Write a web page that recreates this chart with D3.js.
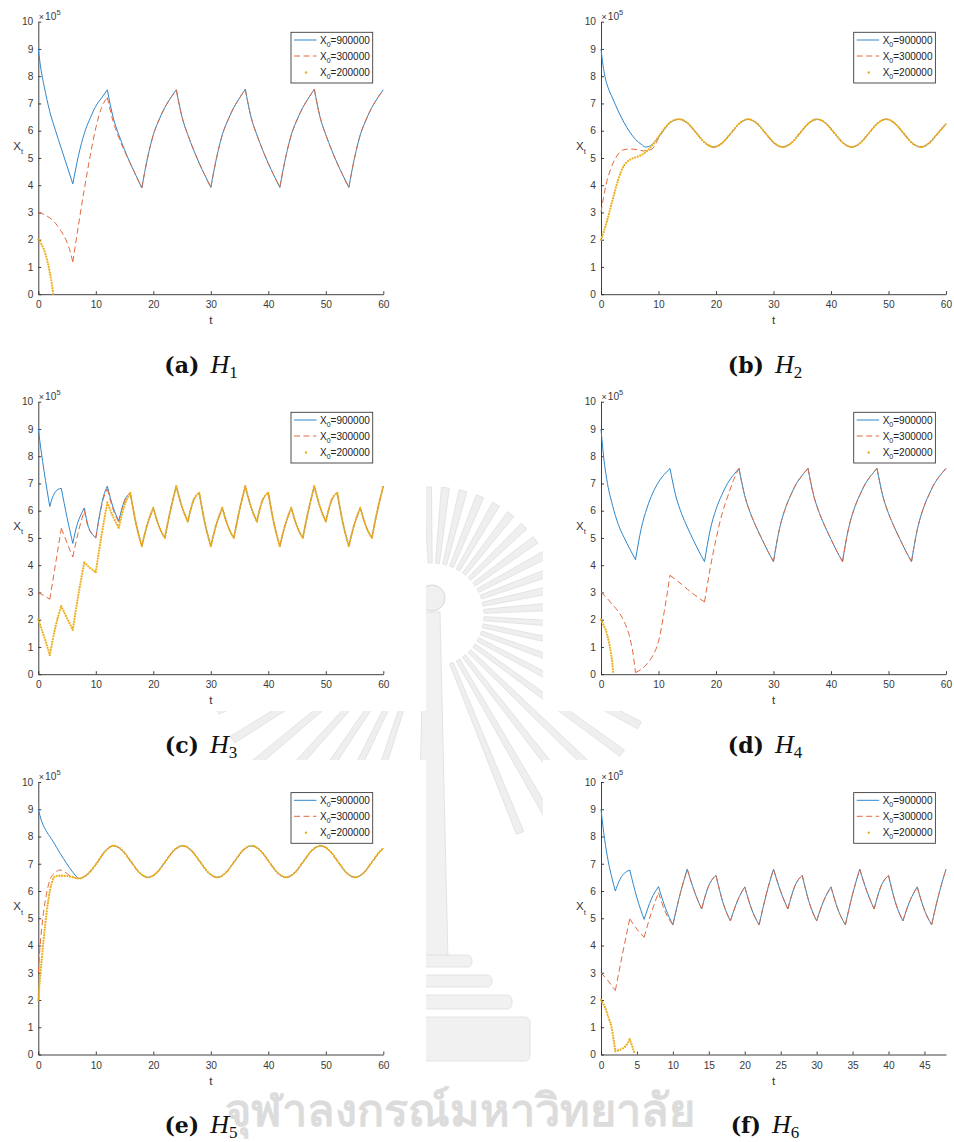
<!DOCTYPE html>
<html>
<head>
<meta charset="utf-8">
<script src="https://cdn.jsdelivr.net/npm/d3@7"></script>
<style>
  html, body { margin: 0; padding: 0; background: #fff; }
  svg { display: block; }
</style>
</head>
<body>
<svg id="fig" width="954" height="1142"></svg>
<script>
// Population X_t (in units of 10^5) against time t for three starting sizes,
// under six harvesting strategies H1..H6.

const xTicks60 = [0, 10, 20, 30, 40, 50, 60];
const xTicks48 = [0, 5, 10, 15, 20, 25, 30, 35, 40, 45];
const yTicks = [0, 1, 2, 3, 4, 5, 6, 7, 8, 9, 10];
const legendValues = ["900000", "300000", "200000"];
const captionLetters = ["a", "b", "c", "d", "e", "f"];
const strategyIndex = ["1", "2", "3", "4", "5", "6"];

// ---------- H1 ----------
const h1Tail = [[18,3.9],[19,5.0],[20,5.85],[21,6.4],[22,6.85],[23,7.2],[24,7.5],[25,6.5],[26,5.85],[27,5.3],[28,4.8],[29,4.35],[30,3.92],[31,5.0],[32,5.85],[33,6.4],[34,6.85],[35,7.2],[36,7.52],[37,6.5],[38,5.85],[39,5.3],[40,4.8],[41,4.35],[42,3.92],[43,5.0],[44,5.85],[45,6.4],[46,6.85],[47,7.2],[48,7.52],[49,6.5],[50,5.85],[51,5.3],[52,4.8],[53,4.35],[54,3.92],[55,5.0],[56,5.85],[57,6.4],[58,6.85],[59,7.2],[60,7.5]];
const h1Blue = [[0,9.0],[0.5,8.2],[1,7.65],[2,6.7],[3,6.0],[4,5.35],[5,4.7],[6,4.05],[7,5.1],[8,5.9],[9,6.45],[10,6.9],[11,7.2],[12,7.5],[13,6.5],[14,5.85],[15,5.3],[16,4.8],[17,4.35]];
const h1Red = [[0,3.0],[1,2.93],[2,2.8],[3,2.6],[4,2.3],[5,1.9],[5.5,1.6],[6,1.18],[7,2.55],[8,3.85],[9,5.05],[10,6.1],[11,6.85],[12,7.22],[13,6.35],[14,5.75],[15,5.25],[16,4.8],[17,4.35]];
const h1Yellow = [[0,2.0],[0.5,1.85],[1,1.62],[1.5,1.28],[2,0.8],[2.3,0.45],[2.6,0]];

// ---------- H2 ----------
const h2Tail = [[13.6,6.42],[15.1,6.27],[16.6,5.91],[18.1,5.55],[19.6,5.4],[21.1,5.55],[22.6,5.91],[24.1,6.27],[25.6,6.42],[27.1,6.27],[28.6,5.91],[30.1,5.55],[31.6,5.4],[33.1,5.55],[34.6,5.91],[36.1,6.27],[37.6,6.42],[39.1,6.27],[40.6,5.91],[42.1,5.55],[43.6,5.4],[45.1,5.55],[46.6,5.91],[48.1,6.27],[49.6,6.42],[51.1,6.27],[52.6,5.91],[54.1,5.55],[55.6,5.4],[57.1,5.55],[58.6,5.91],[60,6.25]];
const h2Blue = [[0,9.0],[0.35,8.4],[0.7,7.98],[1.2,7.6],[2,7.2],[3,6.72],[4,6.3],[5,5.95],[6,5.68],[7,5.5],[7.8,5.4],[8.6,5.45],[9.5,5.62],[10.5,5.9],[11.5,6.18],[12.5,6.36]];
const h2Red = [[0,3.0],[0.4,3.5],[0.8,3.95],[1.6,4.55],[2.5,4.98],[3.2,5.2],[3.9,5.3],[5,5.33],[6.3,5.3],[7.4,5.26],[8.4,5.28],[9.2,5.4],[10,5.72],[11,6.05],[12,6.3],[12.8,6.39]];
const h2Yellow = [[0,2.0],[1,2.65],[2,3.45],[3,4.2],[3.5,4.5],[4,4.72],[4.5,4.85],[5,4.93],[6,5.02],[7,5.1],[8,5.25],[9,5.48],[10,5.78],[11,6.07],[12,6.3],[12.8,6.39]];

// ---------- H3 ----------
const h3Tail = [[16,6.65],[17,5.52],[18,4.7],[19,5.52],[20,6.1],[21,5.42],[22,5.0],[23,6.03],[24,6.9],[25,6.13],[26,5.6],[27,6.38],[28,6.65],[29,5.52],[30,4.7],[31,5.52],[32,6.1],[33,5.42],[34,5.0],[35,6.03],[36,6.9],[37,6.13],[38,5.6],[39,6.38],[40,6.65],[41,5.52],[42,4.7],[43,5.52],[44,6.1],[45,5.42],[46,5.0],[47,6.03],[48,6.9],[49,6.13],[50,5.6],[51,6.38],[52,6.65],[53,5.52],[54,4.7],[55,5.52],[56,6.1],[57,5.42],[58,5.0],[59,6.03],[60,6.9]];
const h3Blue = [[0,9.0],[0.5,8.18],[1,7.45],[1.5,6.78],[2,6.15],[2.5,6.5],[3,6.7],[3.5,6.79],[4,6.82],[5,5.75],[6,4.8],[6.7,5.45],[7.4,5.85],[8,6.1],[8.7,5.42],[9.3,5.17],[10,5.0],[10.7,5.9],[11.3,6.5],[12,6.9],[13,6.13],[14,5.62],[15,6.38]];
const h3Red = [[0,3.0],[1,2.88],[2,2.75],[3,4.05],[4,5.35],[5,4.82],[6,4.3],[7,5.25],[8,6.0],[8.7,5.38],[9.3,5.15],[10,5.0],[10.7,5.85],[11.3,6.42],[12,6.8],[13,6.05],[14,5.58],[15,6.35]];
const h3Yellow = [[0,2.0],[0.5,1.7],[1,1.38],[1.5,1.05],[2,0.7],[3,1.75],[4,2.5],[5,2.05],[6,1.63],[7,2.95],[8,4.1],[9,3.9],[10,3.75],[11,5.1],[12,6.3],[13,5.78],[14,5.37],[15,6.2]];

// ---------- H4 ----------
const h4Tail = [[24,7.55],[25,6.55],[26,5.9],[27,5.4],[28,4.95],[29,4.52],[30,4.13],[31,5.3],[32,6.05],[33,6.57],[34,7.0],[35,7.3],[36,7.55],[37,6.55],[38,5.9],[39,5.4],[40,4.95],[41,4.52],[42,4.13],[43,5.3],[44,6.05],[45,6.57],[46,7.0],[47,7.3],[48,7.55],[49,6.55],[50,5.9],[51,5.4],[52,4.95],[53,4.52],[54,4.13],[55,5.3],[56,6.05],[57,6.57],[58,7.0],[59,7.3],[60,7.55]];
const h4Blue = [[0,9.0],[0.5,7.9],[1,7.15],[2,6.2],[3,5.5],[4,5.02],[5,4.6],[6,4.2],[7,5.35],[8,6.1],[9,6.65],[10,7.05],[11,7.33],[12,7.55],[13,6.55],[14,5.9],[15,5.4],[16,4.95],[17,4.52],[18,4.13],[19,5.3],[20,6.05],[21,6.57],[22,7.0],[23,7.3]];
const h4Red = [[0,3.0],[1,2.8],[2,2.55],[3,2.3],[4,1.95],[5,1.35],[5.5,0.85],[6,0.06],[7,0.18],[8,0.38],[9,0.68],[10,1.2],[11,2.3],[12,3.63],[13,3.47],[14,3.3],[15,3.12],[16,2.95],[17,2.8],[18,2.65],[19,3.9],[20,4.95],[21,5.85],[22,6.5],[23,7.1]];
const h4Yellow = [[0,2.0],[0.4,1.82],[0.75,1.66],[1.1,1.42],[1.4,1.15],[1.75,0.75],[2.0,0.35],[2.15,0]];

// ---------- H5 ----------
const h5Tail = [[7.1,6.46],[8.6,6.62],[10.1,7.0],[11.6,7.45],[13.1,7.66],[14.6,7.49],[16.1,7.08],[17.6,6.67],[19.1,6.5],[20.6,6.67],[22.1,7.08],[23.6,7.49],[25.1,7.66],[26.6,7.49],[28.1,7.08],[29.6,6.67],[31.1,6.5],[32.6,6.67],[34.1,7.08],[35.6,7.49],[37.1,7.66],[38.6,7.49],[40.1,7.08],[41.6,6.67],[43.1,6.5],[44.6,6.67],[46.1,7.08],[47.6,7.49],[49.1,7.66],[50.6,7.49],[52.1,7.08],[53.6,6.67],[55.1,6.5],[56.6,6.67],[58.1,7.08],[59.6,7.49],[60,7.56]];
const h5Blue = [[0,9.0],[0.6,8.55],[1.45,8.18],[2.6,7.81],[3.8,7.38],[4.9,7.02],[6.1,6.66],[6.7,6.52]];
const h5Red = [[0,3.0],[0.3,3.96],[0.6,4.65],[0.9,5.2],[1.45,5.92],[2,6.4],[2.9,6.67],[3.8,6.77],[4.6,6.7],[5.5,6.56],[6.5,6.48]];
const h5Yellow = [[0,2.0],[0.3,2.8],[0.6,3.5],[1.2,4.75],[1.75,5.68],[2.3,6.27],[2.9,6.53],[3.8,6.56],[4.9,6.55],[6.1,6.5]];

// ---------- H6 ----------
const h6Tail = [[10,4.76],[11,5.88],[12,6.8],[13,5.98],[14,5.34],[15,6.2],[16,6.57],[17,5.55],[18,4.9],[19,5.65],[20,6.15],[21,5.3],[22,4.76],[23,5.88],[24,6.8],[25,5.98],[26,5.34],[27,6.2],[28,6.57],[29,5.55],[30,4.9],[31,5.65],[32,6.15],[33,5.3],[34,4.76],[35,5.88],[36,6.8],[37,5.98],[38,5.34],[39,6.2],[40,6.57],[41,5.55],[42,4.9],[43,5.65],[44,6.15],[45,5.3],[46,4.76],[47,5.88],[48,6.8]];
const h6Blue = [[0,9.0],[0.5,7.9],[1,7.1],[1.5,6.5],[2,6.0],[2.5,6.35],[3,6.58],[3.5,6.7],[4,6.77],[5,5.75],[6,4.96],[7,5.7],[8,6.16],[9,5.35]];
const h6Red = [[0,3.0],[1,2.7],[2,2.35],[3,3.7],[4,4.98],[5,4.6],[6,4.3],[7,5.2],[8,5.94],[9,5.2]];
const h6Yellow = [[0,2.0],[0.6,1.7],[1.07,1.33],[1.44,1.03],[1.76,0.54],[2,0.12],[2.5,0.16],[3,0.22],[3.5,0.33],[4,0.56],[4.35,0.3],[4.7,0]];

// ---------- figure layout ----------
const colX = [38.3, 601];
const rowY = [21.7, 401.7, 782];
const plotW = 345, plotH = 272.5;
const captionX = [201, 765];
const captionY = [373, 753, 1133];

const blueStyle = { color: "#2e86cc", width: 1, dash: null };
const redStyle = { color: "#e2693f", width: 1, dash: "6 3.5" };
const yellowStyle = { color: "#edb120", width: 2.3, dash: "0 2.7", cap: "round" };

const panels = [
  { xMax: 60, xTicks: xTicks60, smooth: false, series: [h1Blue.concat(h1Tail), h1Red.concat(h1Tail), h1Yellow] },
  { xMax: 60, xTicks: xTicks60, smooth: true,  series: [h2Blue.concat(h2Tail), h2Red.concat(h2Tail), h2Yellow.concat(h2Tail)] },
  { xMax: 60, xTicks: xTicks60, smooth: false, series: [h3Blue.concat(h3Tail), h3Red.concat(h3Tail), h3Yellow.concat(h3Tail)] },
  { xMax: 60, xTicks: xTicks60, smooth: false, series: [h4Blue.concat(h4Tail), h4Red.concat(h4Tail), h4Yellow] },
  { xMax: 60, xTicks: xTicks60, smooth: true,  series: [h5Blue.concat(h5Tail), h5Red.concat(h5Tail), h5Yellow.concat(h5Tail)] },
  { xMax: 48, xTicks: xTicks48, smooth: false, series: [h6Blue.concat(h6Tail), h6Red.concat(h6Tail), h6Yellow] }
];

const svg = d3.select("#fig");
const sansFont = "'Liberation Sans', Arial, Helvetica, sans-serif";

// ---------- faint university emblem behind the figures ----------
function drawEmblem() {
  const wm = svg.append("g").attr("class", "emblem");
  const cx = 432, cy = 615;
  const rays = d3.range(-180, 181, 8).filter(a => !(a > 72 && a < 108));
  rays.forEach(a => {
    const r0 = 52;
    const r1 = a < 0 ? 128 : 235;
    const rad = a * Math.PI / 180;
    const nx = -Math.sin(rad), ny = Math.cos(rad);
    const p = [
      [cx + Math.cos(rad) * r0 + nx * 2, cy + Math.sin(rad) * r0 + ny * 2],
      [cx + Math.cos(rad) * r1 + nx * 4, cy + Math.sin(rad) * r1 + ny * 4],
      [cx + Math.cos(rad) * r1 - nx * 4, cy + Math.sin(rad) * r1 - ny * 4],
      [cx + Math.cos(rad) * r0 - nx * 2, cy + Math.sin(rad) * r0 - ny * 2]
    ];
    wm.append("path").attr("d", "M" + p.join("L") + "Z")
      .attr("fill", "#efefef").attr("stroke", "#dedede").attr("stroke-width", 0.8);
  });
  wm.append("path")
    .attr("d", "M424,612 L440,612 L448,960 L416,960 Z")
    .attr("fill", "#f1f1f1").attr("stroke", "#dddddd").attr("stroke-width", 0.8);
  wm.append("circle").attr("cx", cx).attr("cy", 598).attr("r", 13)
    .attr("fill", "#f0f0f0").attr("stroke", "#d8d8d8").attr("stroke-width", 1);
  [[392, 955, 80, 12], [372, 975, 120, 12], [352, 995, 160, 14], [334, 1017, 196, 44]].forEach(b => {
    wm.append("rect").attr("x", b[0]).attr("y", b[1]).attr("width", b[2]).attr("height", b[3])
      .attr("rx", 5).attr("fill", "#f1f1f1").attr("stroke", "#dedede").attr("stroke-width", 0.8);
  });
  wm.append("text").attr("x", 460).attr("y", 1126).attr("text-anchor", "middle")
    .attr("font-family", "'Noto Sans', 'DejaVu Sans', sans-serif").attr("font-weight", "bold")
    .attr("font-size", 45).attr("fill", "#dcdcdc").text("จุฬาลงกรณ์มหาวิทยาลัย");

  // opaque backgrounds of the six figure images
  [[0, 0, 426, 336], [543, 0, 411, 336], [0, 380, 426, 331], [543, 380, 411, 331], [0, 760, 426, 329], [543, 760, 411, 329]]
    .forEach(r => svg.append("rect").attr("x", r[0]).attr("y", r[1]).attr("width", r[2]).attr("height", r[3]).attr("fill", "#fff"));
}

// split a trajectory at its harvest corners so each piece is a smooth monotone arc
function splitAtTurns(pts) {
  const out = [];
  let cur = [pts[0]];
  for (let i = 1; i < pts.length; i++) {
    cur.push(pts[i]);
    if (i < pts.length - 1) {
      const d1 = pts[i][1] - pts[i - 1][1], d2 = pts[i + 1][1] - pts[i][1];
      if (d1 * d2 < 0) { out.push(cur); cur = [pts[i]]; }
    }
  }
  out.push(cur);
  return out;
}

function drawPanel(p, i) {
  const col = i % 2, row = Math.floor(i / 2);
  const g = svg.append("g").attr("transform", `translate(${colX[col]},${rowY[row]})`);
  const x = d3.scaleLinear().domain([0, p.xMax]).range([0, plotW]);
  const y = d3.scaleLinear().domain([0, 10]).range([plotH, 0]);
  const line = d3.line().x(d => x(d[0])).y(d => y(d[1])).curve(d3.curveMonotoneX);
  const pathFor = pts => (p.smooth ? [pts] : splitAtTurns(pts)).map(line).join("");

  const clipId = "plot-clip-" + i;
  g.append("clipPath").attr("id", clipId).append("rect")
    .attr("x", -2).attr("y", -4).attr("width", plotW + 4).attr("height", plotH + 6);

  // axes
  const xAxis = g.append("g").attr("transform", `translate(0,${plotH})`)
    .call(d3.axisBottom(x).tickValues(p.xTicks).tickSizeInner(-3).tickSizeOuter(0).tickPadding(7));
  const yAxis = g.append("g")
    .call(d3.axisLeft(y).tickValues(yTicks).tickSizeInner(-3).tickSizeOuter(0).tickPadding(5));
  [xAxis, yAxis].forEach(a => {
    a.attr("color", "#2b2b2b").attr("font-family", sansFont).attr("font-size", 10.2);
    a.selectAll("path, line").attr("stroke-width", 0.9);
    a.selectAll("text").attr("fill", "#3a3a3a");
  });

  // exponent marker
  const ex = g.append("text").attr("x", 0.5).attr("y", -2.2).attr("font-family", sansFont).attr("fill", "#3a3a3a");
  ex.append("tspan").attr("font-size", 9).text("×");
  ex.append("tspan").attr("font-size", 10.2).attr("dx", 1).text("10");
  ex.append("tspan").attr("font-size", 7.5).attr("dy", -4.5).text("5");

  // axis titles
  g.append("text").attr("x", plotW / 2).attr("y", plotH + 30).attr("text-anchor", "middle")
    .attr("font-family", sansFont).attr("font-size", 11.5).attr("fill", "#333").text("t");
  const yl = g.append("text").attr("x", -25).attr("y", 128.3)
    .attr("font-family", sansFont).attr("font-size", 11.5).attr("fill", "#333");
  yl.append("tspan").text("X");
  yl.append("tspan").attr("font-size", 7.5).attr("dy", 4.5).text("t");

  // trajectories
  const curves = g.append("g").attr("clip-path", `url(#${clipId})`);
  [blueStyle, redStyle, yellowStyle].forEach((s, k) => {
    curves.append("path").attr("d", pathFor(p.series[k]))
      .attr("fill", "none").attr("stroke", s.color).attr("stroke-width", s.width)
      .attr("stroke-dasharray", s.dash).attr("stroke-linecap", s.cap || "butt")
      .attr("stroke-linejoin", "round");
  });

  // legend
  const lg = g.append("g").attr("transform", `translate(${252.7},${10.6})`);
  lg.append("rect").attr("width", 81.7).attr("height", 50.7)
    .attr("fill", "#fff").attr("stroke", "#3c3c3c").attr("stroke-width", 0.9);
  const rowsY = [7.7, 23.7, 40.2];
  [blueStyle, redStyle, yellowStyle].forEach((s, k) => {
    if (k === 2) {
      lg.append("circle").attr("cx", 15).attr("cy", rowsY[k]).attr("r", 1.2).attr("fill", s.color);
    } else {
      lg.append("line").attr("x1", 3).attr("x2", 25.5).attr("y1", rowsY[k]).attr("y2", rowsY[k])
        .attr("stroke", s.color).attr("stroke-width", s.width).attr("stroke-dasharray", s.dash);
    }
    const t = lg.append("text").attr("x", 29).attr("y", rowsY[k] + 3.6)
      .attr("font-family", sansFont).attr("font-size", 10).attr("fill", "#222");
    t.append("tspan").text("X");
    t.append("tspan").attr("font-size", 7).attr("dy", 3).text("0");
    t.append("tspan").attr("dy", -3).text("=" + legendValues[k]);
  });

  // sub-figure caption
  const cap = svg.append("text").attr("x", captionX[col]).attr("y", captionY[row])
    .attr("text-anchor", "middle").attr("fill", "#111");
  cap.append("tspan").attr("font-family", "'DejaVu Serif', 'Liberation Serif', serif")
    .attr("font-weight", "bold").attr("font-size", 22).text(`(${captionLetters[i]})`);
  cap.append("tspan").attr("font-family", "'Liberation Serif', serif").attr("font-style", "italic")
    .attr("font-size", 26).attr("dx", 11).text("H");
  cap.append("tspan").attr("font-family", "'Liberation Serif', serif")
    .attr("font-size", 17).attr("dy", 4.5).text(strategyIndex[i]);
}

drawEmblem();
panels.forEach(drawPanel);
</script>
</body>
</html>
